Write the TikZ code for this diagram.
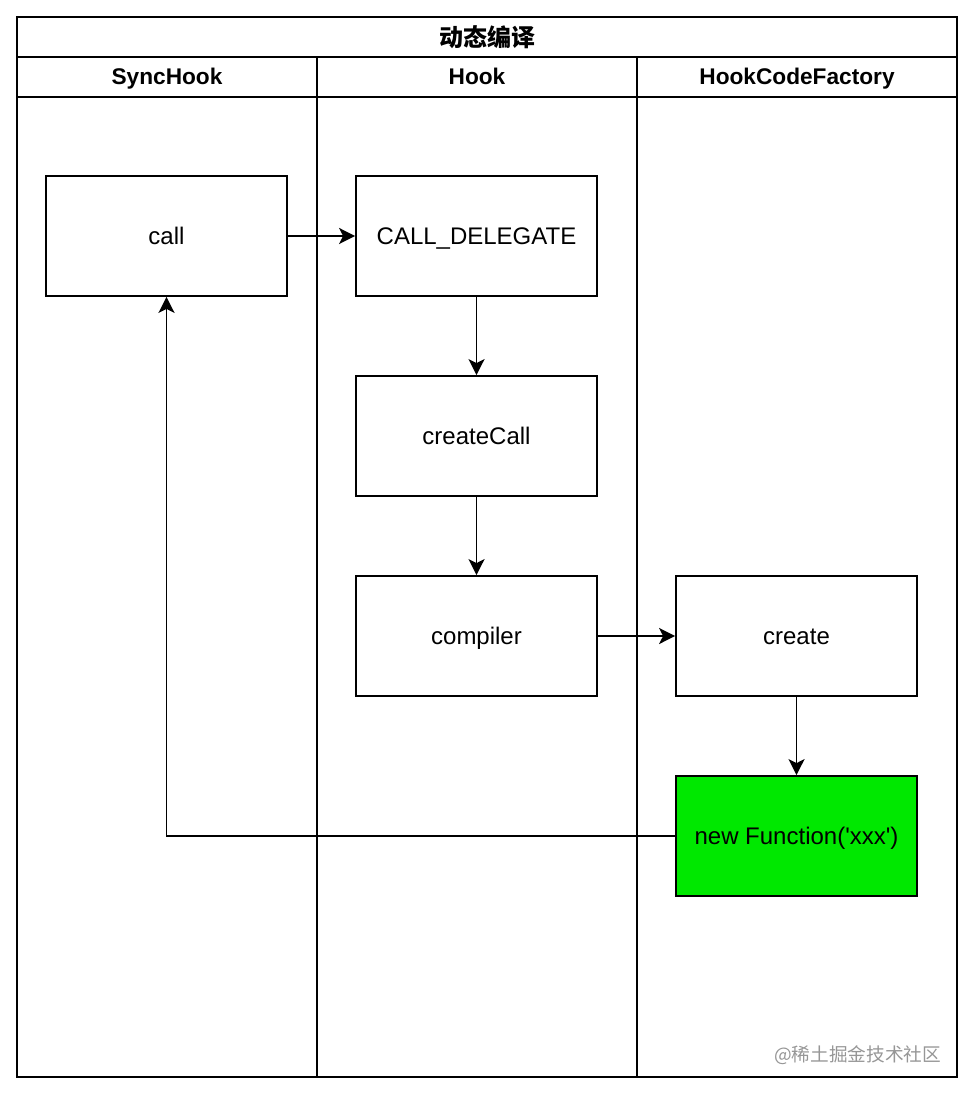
\documentclass[tikz,border=0pt]{standalone}
\usepackage{fontspec}
\setmainfont{Liberation Sans}[Ligatures=TeXOff]
\newfontfamily\cjk{Noto Sans CJK SC}
\usetikzlibrary{arrows.meta}
\definecolor{fngreen}{RGB}{0,232,0}
\definecolor{wmgray}{RGB}{150,150,150}
\begin{document}
\begin{tikzpicture}[x=0.75pt, y=-0.75pt,
  lane/.style={line width=1.6pt},
  func/.style={draw, line width=1.3pt, minimum width=180.75pt, minimum height=90pt, inner sep=0pt,
    text height=16pt, text depth=3.5pt, font=\fontsize{18}{21}\selectfont},
  flow/.style={line width=1.4pt, -{Stealth[length=12pt, width=12pt, inset=3pt]}},
  lanehead/.style={font=\fontsize{17}{20}\selectfont\bfseries, text height=15.5pt, text depth=3.5pt}]
  \useasboundingbox (0,0) rectangle (974,1094);
  % swimlanes
  \draw[lane] (17,17) rectangle (957,1077);
  \draw[lane] (17,57) -- (957,57);
  \draw[lane] (17,97) -- (957,97);
  \draw[lane] (317,57) -- (317,1077);
  \draw[lane] (637,57) -- (637,1077);
  \node[font=\cjk\bfseries\fontsize{18}{20}\selectfont] (title) at (487,37) {动态编译};
  \node[lanehead] (syncHead) at (167,77) {SyncHook};
  \node[lanehead] (hookHead) at (477,77) {Hook};
  \node[lanehead] (factoryHead) at (797,77) {HookCodeFactory};
  % functions
  \node[func] (call) at (166.5,236) {call};
  \node[func] (delegate) at (476.5,236) {CALL\_DELEGATE};
  \node[func] (createCall) at (476.5,436) {createCall};
  \node[func] (compiler) at (476.5,636) {compiler};
  \node[func] (create) at (796.5,636) {create};
  \node[func, fill=fngreen] (newFn) at (796.5,836) {new Function('xxx')};
  % flow
  \draw[flow] (call) -- (delegate);
  \draw[flow] (delegate) -- (createCall);
  \draw[flow] (createCall) -- (compiler);
  \draw[flow] (compiler) -- (create);
  \draw[flow] (create) -- (newFn);
  \draw[flow] (newFn.west) -| (call.south);
  \node[anchor=east, text=wmgray, font=\cjk\fontsize{14}{16}\selectfont] (mark) at (946,1055) {@稀土掘金技术社区};
\end{tikzpicture}
\end{document}
